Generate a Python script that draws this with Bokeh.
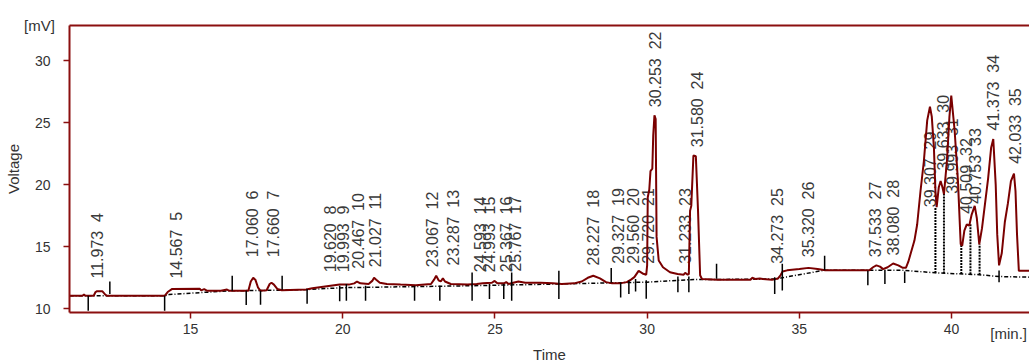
import math
from bokeh.plotting import figure
from bokeh.models import Range1d, FixedTicker, LinearAxis, Title
from bokeh.embed import file_html
from bokeh.resources import INLINE
from bokeh.core.properties import value

# ---------------- data ----------------
time_min = [11.03, 11.45, 11.5, 11.55, 11.82, 11.88, 11.93, 12.1, 12.18, 12.25, 14.15, 14.25, 14.4,
             15.3, 15.35, 15.45, 15.55, 16.0, 16.2, 16.28, 16.9, 16.98, 17.06, 17.13, 17.22, 17.3,
             17.5, 17.6, 17.66, 17.74, 17.85, 18.0, 18.8, 19.0, 19.3, 19.6, 19.9, 20.2, 20.38, 20.47,
             20.58, 20.85, 20.97, 21.03, 21.1, 21.22, 21.45, 21.9, 22.4, 22.9, 23.0, 23.07, 23.15,
             23.22, 23.29, 23.36, 23.55, 24.1, 24.4, 24.6, 24.9, 24.99, 25.08, 25.3, 25.37, 25.45,
             25.6, 25.77, 26.0, 26.5, 26.9, 27.2, 27.6, 27.85, 28.05, 28.23, 28.45, 28.65, 28.85,
             29.1, 29.33, 29.47, 29.58, 29.72, 29.85, 29.97, 30.0, 30.02, 30.07, 30.11, 30.17, 30.2,
             30.24, 30.28, 30.31, 30.38, 30.52, 30.75, 31.0, 31.2, 31.25, 31.33, 31.37, 31.41, 31.45,
             31.52, 31.6, 31.67, 31.74, 31.8, 32.3, 33.0, 33.4, 33.45, 33.55, 33.7, 33.8, 34.1, 34.3,
             34.38, 34.45, 34.6, 35.0, 35.3, 35.6, 35.85, 37.3, 37.42, 37.53, 37.65, 37.75, 37.9,
             38.08, 38.25, 38.4, 38.5, 38.58, 38.65, 38.78, 38.87, 38.98, 39.09, 39.2, 39.29, 39.35,
             39.42, 39.47, 39.51, 39.58, 39.64, 39.7, 39.75, 39.85, 39.93, 39.99, 40.1, 40.21, 40.3,
             40.35, 40.42, 40.5, 40.58, 40.66, 40.76, 40.83, 40.91, 41.0, 41.1, 41.2, 41.3, 41.37,
             41.45, 41.5, 41.56, 41.65, 41.75, 41.85, 41.95, 42.05, 42.1, 42.15, 42.21, 42.6]
voltage_mv = [11.05, 11.05, 11.15, 11.05, 11.05, 11.35, 11.42, 11.42, 11.2, 11.05, 11.05, 11.35, 11.6,
              11.62, 11.48, 11.58, 11.45, 11.45, 11.55, 11.45, 11.45, 12.2, 12.5, 12.35, 11.7, 11.45,
              11.5, 12.0, 12.1, 11.95, 11.6, 11.5, 11.55, 11.65, 11.75, 11.85, 11.95, 11.95, 12.05, 12.2,
              12.05, 12.0, 12.25, 12.5, 12.35, 12.1, 12.0, 11.95, 11.9, 12.0, 12.35, 12.66, 12.3,
              12.2, 12.45, 12.2, 12.0, 11.95, 12.0, 12.05, 12.1, 12.25, 12.05, 12.05, 12.15, 12.0,
              12.1, 12.2, 12.1, 12.1, 12.05, 12.0, 12.05, 12.2, 12.5, 12.66, 12.45, 12.15, 12.05,
              12.05, 12.15, 12.35, 12.55, 13.06, 12.85, 12.75, 13.5, 19.0, 19.6, 21.1, 21.3, 24.0,
              25.6, 25.3, 15.8, 13.9, 13.35, 12.95, 12.8, 12.75, 12.9, 12.75, 12.8, 17.9, 18.3,
              22.36, 22.3, 18.0, 12.7, 12.4, 12.35, 12.35, 12.35, 12.5, 12.4, 12.45, 12.4, 12.35, 12.45,
              12.7, 13.0, 13.1, 13.2, 13.3, 13.2, 13.1, 13.1, 13.35, 13.5, 13.4, 13.2, 13.35,
              13.65, 13.5, 13.3, 13.3, 13.8, 14.4, 15.5, 16.8, 19.5, 21.9, 25.2, 26.3, 25.5,
              23.0, 19.5, 18.2, 19.8, 20.3, 19.8, 19.25, 22.0, 25.5, 27.2, 24.4, 20.3, 15.2,
              15.1, 16.3, 16.8, 16.7, 17.6, 18.3, 17.3, 15.2, 16.5, 18.5, 20.5, 23.0, 23.7,
              20.0, 16.0, 13.5, 14.5, 17.0, 18.5, 20.3, 20.9, 19.5, 16.0, 13.06, 13.06]

baseline_t = [11.03, 14.15, 14.3, 16.3, 18.0, 18.8, 20.0, 24.0, 27.1, 30.0, 31.4, 34.2, 35.8,
              38.46, 39.46, 40.9, 41.56, 42.6]
baseline_mv = [11.05, 11.05, 11.15, 11.45, 11.5, 11.55, 11.7, 11.85, 12.0, 12.15, 12.35, 12.4, 13.1,
               13.1, 12.9, 12.75, 12.6, 12.55]

peak_times = [11.973, 14.567, 17.060, 17.660, 19.620, 19.993, 20.467, 21.027, 23.067, 23.287,
              24.593, 24.993, 25.367, 25.767, 28.227, 29.327, 29.560, 29.720, 30.253, 31.233,
              31.580, 34.273, 35.320, 37.533, 38.080, 39.307, 39.633, 39.993, 40.509, 40.753,
              41.373, 42.033]
peak_ids = list(range(4, 36))

marker_t = [11.64, 12.35, 14.15, 16.37, 16.83, 17.30, 18.01, 18.83, 19.90, 20.12, 20.75, 22.36,
            23.19, 24.25, 24.82, 25.29, 25.55, 27.10, 28.82, 29.13, 29.40, 29.62, 29.97, 31.01,
            31.37, 32.28, 34.19, 34.44, 35.83, 37.25, 37.81, 38.46, 41.56]
marker_lo = [9.84, 11.19, 9.84, 11.45, 10.3, 10.32, 11.53, 10.4, 10.6, 10.65, 10.65, 10.65,
             10.65, 10.65, 10.78, 10.78, 10.65, 10.78, 12.12, 10.9, 11.19, 11.4, 10.8, 11.34,
             11.34, 12.42, 11.2, 11.48, 13.1, 11.9, 12.0, 12.07, 12.15]
marker_hi = [11.05, 12.2, 11.05, 12.66, 11.45, 11.45, 12.66, 11.6, 11.85, 12.0, 11.85, 11.85,
             11.85, 12.93, 12.0, 12.0, 12.93, 13.06, 13.28, 12.12, 12.26, 12.4, 12.3, 12.6,
             12.6, 13.63, 12.55, 13.63, 14.27, 13.06, 13.1, 13.0, 13.09]

drop_t = [39.47, 39.75, 40.32, 40.62, 40.92]
drop_lo = [12.88, 12.85, 12.8, 12.78, 12.75]
drop_hi = [18.2, 19.25, 15.2, 16.85, 15.2]

x_ticks = [15, 20, 25, 30, 35, 40]
y_ticks = [10, 15, 20, 25, 30]

# label placement (layout, not data)
label_t = [11.935, 14.530, 17.047, 17.717, 19.599, 20.026, 20.529, 21.078, 22.940, 23.650,
           24.527, 24.823, 25.381, 25.677, 28.239, 29.060, 29.553, 30.046, 30.276, 31.262,
           31.646, 34.274, 35.312, 37.503, 38.104, 39.310, 39.747, 40.023, 40.493, 40.789,
           41.389, 42.102]
label_v = [12.44, 12.44, 14.16, 14.16, 12.95, 12.95, 13.23, 13.35, 13.35, 13.49,
           12.95, 12.95, 12.95, 13.0, 13.49, 13.63, 13.63, 13.63, 26.26, 13.63,
           23.03, 13.63, 14.16, 14.16, 14.30, 18.19, 21.15, 19.27, 17.66, 18.47,
           24.38, 21.69]
label_text = ["%.3f \u00a0%d" % (t, i) for t, i in zip(peak_times, peak_ids)]

RED = "#8b0f0f"
TRACE = "#7a0000"
FONT = "Liberation Sans"
TXT = "#333333"

p = figure(width=1029, height=363, x_range=Range1d(11.025, 42.56), y_range=Range1d(9.70, 32.85),
           output_backend="svg", toolbar_location=None,
           min_border_left=69, min_border_right=0, min_border_top=25, min_border_bottom=51)
p.outline_line_color = None
p.grid.visible = False
p.background_fill_color = "white"
p.border_fill_color = "white"

xax = p.xaxis[0]
yax = p.yaxis[0]
for ax in (xax, yax):
    ax.axis_line_color = RED
    ax.axis_line_width = 2
    ax.major_tick_line_color = RED
    ax.major_tick_line_width = 1.5
    ax.major_tick_out = 6
    ax.major_tick_in = 0
    ax.minor_tick_line_color = None
    ax.major_label_text_font = FONT
    ax.major_label_text_font_size = "14px"
    ax.major_label_text_color = TXT
    ax.axis_label_text_font = FONT
    ax.axis_label_text_font_size = "15px"
    ax.axis_label_text_font_style = "normal"
    ax.axis_label_text_color = TXT
xax.ticker = FixedTicker(ticks=x_ticks)
yax.ticker = FixedTicker(ticks=y_ticks)
xax.major_label_standoff = 5
yax.major_label_standoff = 13

top = LinearAxis(ticker=FixedTicker(ticks=[]), axis_line_color=RED, axis_line_width=2,
                 major_tick_line_color=None, minor_tick_line_color=None,
                 major_label_standoff=0)
p.add_layout(top, "above")

# unit labels at the ends of the axes (the end-aligned label is centred on the axis end,
# so it is padded with no-break spaces to sit left of the edge)
xax.axis_label = "[min.]" + "\u00a0" * 10
xax.axis_label_align = "end"
xax.axis_label_standoff = -12
yax.axis_label = "[mV]"
yax.axis_label_align = "end"
yax.axis_label_orientation = "horizontal"
yax.axis_label_standoff = -23
# quantity names, centred
vax = LinearAxis(ticker=FixedTicker(ticks=[]), axis_line_color=None,
                 major_tick_line_color=None, minor_tick_line_color=None,
                 major_label_standoff=0, axis_label="Voltage", axis_label_standoff=0,
                 axis_label_text_font=FONT, axis_label_text_font_size="15px",
                 axis_label_text_font_style="normal", axis_label_text_color=TXT)
p.add_layout(vax, "left")
p.add_layout(Title(text="Time", align="center", standoff=-2, text_font=FONT,
                   text_font_size="15px", text_font_style="normal", text_color=TXT), "below")

p.text(x=label_t, y=label_v, text=label_text, angle=math.pi / 2, text_align="left",
       text_baseline="middle", text_font=value(FONT), text_font_size="16px",
       text_color="#3a3a3a")

p.line(baseline_t, baseline_mv, line_color="black", line_width=1.5, line_dash="4 2 1 2")
p.segment(x0=drop_t, y0=drop_lo, x1=drop_t, y1=drop_hi, line_color="black", line_width=2,
          line_dash="2 1")
p.line(time_min, voltage_mv, line_color=TRACE, line_width=2)
p.segment(x0=marker_t, y0=marker_lo, x1=marker_t, y1=marker_hi, line_color="black",
          line_width=1.5)

open("out.html", "w").write(file_html(p, INLINE))
